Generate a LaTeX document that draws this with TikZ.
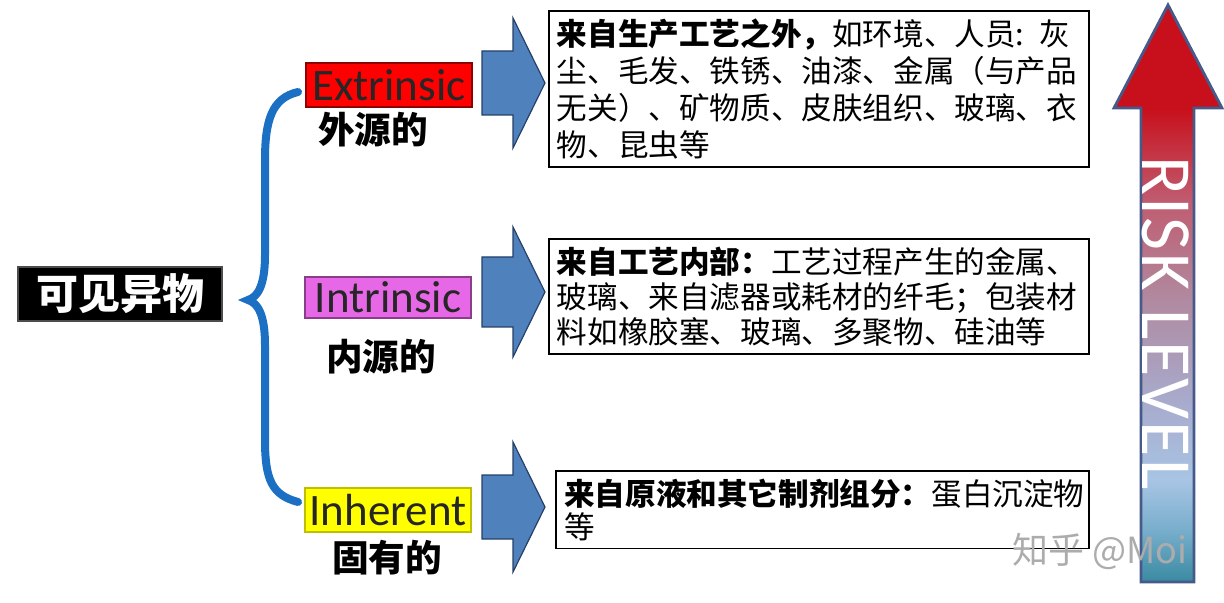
\documentclass[tikz,border=0pt]{standalone}
\usepackage{fontspec}
\setmainfont{Carlito}
\newfontfamily\cjk{Noto Sans CJK SC}
\newfontfamily\riskfont[LetterSpace=3]{Carlito}

\definecolor{braceblue}{RGB}{28,112,196}
\definecolor{arrowblue}{RGB}{79,129,189}
\definecolor{arrowedge}{RGB}{38,64,104}
\definecolor{labred}{RGB}{255,0,0}
\definecolor{labmag}{RGB}{230,104,230}
\definecolor{labyel}{RGB}{255,255,0}
\definecolor{riskred}{RGB}{200,16,28}
\definecolor{riskrose}{RGB}{192,92,112}
\definecolor{riskmauve}{RGB}{176,138,160}
\definecolor{risklilac}{RGB}{168,170,204}
\definecolor{risklblue}{RGB}{168,196,228}
\definecolor{risksky}{RGB}{120,174,204}
\definecolor{riskteal}{RGB}{58,138,162}
\definecolor{riskedge}{RGB}{70,90,138}

\pgfdeclareverticalshading{riskshade}{100bp}{color(0bp)=(riskteal); color(25bp)=(riskteal);
  color(29.5bp)=(risksky); color(33.8bp)=(risklblue); color(40.8bp)=(risklilac);
  color(49.4bp)=(riskmauve); color(58bp)=(riskrose); color(66bp)=(riskred); color(100bp)=(riskred)}

\tikzset{
  lab/.style={draw, line width=1.2pt, inner sep=0pt, minimum width=83pt, text=black!85,
              font=\fontsize{22.5pt}{25pt}\selectfont},
  cnlab/.style={inner sep=0pt, font=\cjk\bfseries\fontsize{18.3pt}{20pt}\selectfont},
  txtbox/.style={draw, line width=0.8pt, anchor=north west, align=left, inner sep=4pt, text width=262pt},
  bluearrow/.style={fill=arrowblue, draw=arrowedge, line width=0.6pt, line join=miter}
}

\begin{document}
\begin{tikzpicture}[x=0.5pt, y=-0.5pt]
    \useasboundingbox (0,0) rectangle (1224,603);

    % main item
    \node[fill=black, draw=black!70, line width=1pt, minimum width=102pt, minimum height=26pt,
          text=white, font=\cjk\bfseries\fontsize{21pt}{24pt}\selectfont] (root) at (120,294) {可见异物};

    % brace
    \draw[braceblue, line width=4pt, line cap=round] (298,92) .. controls (272,98) and (265,120) .. (265,160)
        -- (265,255) .. controls (265,285) and (258,297) .. (248,300)
        .. controls (258,303) and (265,315) .. (265,345)
        -- (265,440) .. controls (265,480) and (272,495) .. (298,502);

    % three kinds
    \node[lab, fill=labred, draw=labred!55!black, minimum height=22pt] (extlab) at (389,85) {Extrinsic};
    \node[lab, fill=labmag, draw=labmag!60!black, minimum height=20.5pt] (intlab) at (388,297.5) {Intrinsic};
    \node[lab, fill=labyel, draw=labyel!75!black, minimum height=22pt] (inhlab) at (388,510) {Inherent};

    \node[cnlab] (extcn) at (373,130) {外源的};
    \node[cnlab] (intcn) at (381,357) {内源的};
    \node[cnlab] (inhcn) at (387,558) {固有的};

    % block arrows
    \foreach \cy/\bh in {83/32, 292/35, 507/32}{
        \filldraw[bluearrow] (482,\cy-\bh) --++ (31,0) --++ (0,\bh-65) --++ (32,65)
            --++ (-32,65) --++ (0,\bh-65) --++ (-31,0) -- cycle;
    };

    % description boxes
    \node[txtbox, minimum width=270pt, minimum height=75pt, font=\cjk\fontsize{15.3pt}{18.5pt}\selectfont]
        (extbox) at (548,10) {{\bfseries 来自生产工艺之外，}如环境、人员: 灰\\
        尘、毛发、铁锈、油漆、金属（与产品\\
        无关）、矿物质、皮肤组织、玻璃、衣\\
        物、昆虫等};
    \node[txtbox, minimum width=270pt, minimum height=57pt, font=\cjk\fontsize{15.3pt}{17.5pt}\selectfont]
        (intbox) at (548,238) {{\bfseries 来自工艺内部：}工艺过程产生的金属、\\
        玻璃、来自滤器或耗材的纤毛；包装材\\
        料如橡胶塞、玻璃、多聚物、硅油等};
    \node[txtbox, minimum width=266.5pt, minimum height=37.5pt, text width=258pt, font=\cjk\fontsize{15.3pt}{16.5pt}\selectfont]
        (inhbox) at (555,470) {{\bfseries 来自原液和其它制剂组分：}蛋白沉淀物\\
        等};

    % risk level
    \shadedraw[shading=riskshade, draw=riskedge, line width=1.4pt, line join=miter]
        (1141,582) -- (1141,108) -- (1114,108) -- (1168,5) -- (1222,108) -- (1194,108) -- (1194,582) -- cycle;
    \node[rotate=-90, text=white, font=\riskfont\fontsize{36pt}{40pt}\selectfont] (risk) at (1166,323) {RISK LEVEL};

    \node[text=gray!65, font=\cjk\fontsize{18pt}{20pt}\selectfont] (mark) at (1100,551) {知乎 @Moi};
\end{tikzpicture}
\end{document}
